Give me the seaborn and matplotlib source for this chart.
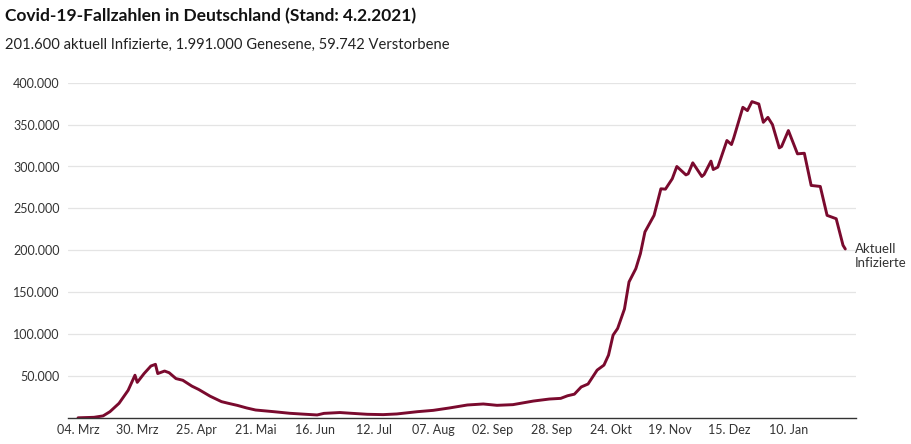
import matplotlib
matplotlib.use("Agg")
import matplotlib.pyplot as plt
import seaborn as sns
import pandas as pd

# ---- data ----
dates = [
    "2020-03-04", "2020-03-11", "2020-03-15", "2020-03-18", "2020-03-22", "2020-03-26",
    "2020-03-29", "2020-03-30", "2020-04-02", "2020-04-05", "2020-04-07", "2020-04-08",
    "2020-04-11", "2020-04-13", "2020-04-16", "2020-04-19", "2020-04-23", "2020-04-26",
    "2020-05-01", "2020-05-06", "2020-05-09", "2020-05-13", "2020-05-17", "2020-05-21",
    "2020-05-29", "2020-06-05", "2020-06-12", "2020-06-17", "2020-06-20", "2020-06-27",
    "2020-07-02", "2020-07-09", "2020-07-16", "2020-07-22", "2020-07-31", "2020-08-07",
    "2020-08-14", "2020-08-22", "2020-08-29", "2020-09-04", "2020-09-11", "2020-09-20",
    "2020-09-27", "2020-10-02", "2020-10-05", "2020-10-08", "2020-10-11", "2020-10-14",
    "2020-10-18", "2020-10-21", "2020-10-23", "2020-10-25", "2020-10-27", "2020-10-30",
    "2020-11-01", "2020-11-04", "2020-11-06", "2020-11-08", "2020-11-12", "2020-11-15",
    "2020-11-17", "2020-11-20", "2020-11-22", "2020-11-26", "2020-11-27", "2020-11-29",
    "2020-12-03", "2020-12-04", "2020-12-07", "2020-12-08", "2020-12-10", "2020-12-14",
    "2020-12-16", "2020-12-17", "2020-12-21", "2020-12-23", "2020-12-25", "2020-12-28",
    "2020-12-30", "2021-01-01", "2021-01-03", "2021-01-06", "2021-01-07", "2021-01-10",
    "2021-01-14", "2021-01-17", "2021-01-20", "2021-01-24", "2021-01-27", "2021-01-31",
    "2021-02-03", "2021-02-04",
]
aktuell_infizierte = [
    200, 800, 2500, 7500, 17500, 33000,
    51000, 42500, 53000, 62000, 64000, 53000,
    56000, 54000, 47000, 45000, 38000, 34000,
    26000, 19500, 17500, 15000, 12000, 9500,
    7500, 5600, 4400, 3600, 5500, 6500,
    5600, 4400, 4000, 4800, 7500, 9100,
    11900, 15500, 16700, 15100, 15900, 20200,
    22600, 23400, 26500, 28400, 37000, 40500,
    57100, 63100, 75000, 98800, 106800, 130000,
    162300, 178200, 196000, 222000, 241700, 273400,
    273000, 285400, 300000, 290000, 291300, 304400,
    288100, 290500, 306400, 296400, 299200, 331000,
    326200, 334100, 370600, 366700, 377400, 374600,
    352700, 358600, 350000, 322200, 323800, 342900,
    315100, 315800, 277400, 276200, 241700, 237700,
    206000, 201600,
]
tick_dates = ["2020-03-04", "2020-03-30", "2020-04-25", "2020-05-21", "2020-06-16",
              "2020-07-12", "2020-08-07", "2020-09-02", "2020-09-28", "2020-10-24",
              "2020-11-19", "2020-12-15", "2021-01-10"]
tick_labels = ["04. Mrz", "30. Mrz", "25. Apr", "21. Mai", "16. Jun", "12. Jul",
               "07. Aug", "02. Sep", "28. Sep", "24. Okt", "19. Nov", "15. Dez", "10. Jan"]
y_ticks = [50000, 100000, 150000, 200000, 250000, 300000, 350000, 400000]
y_tick_labels = ["50.000", "100.000", "150.000", "200.000", "250.000", "300.000",
                 "350.000", "400.000"]

title = "Covid-19-Fallzahlen in Deutschland (Stand: 4.2.2021)"
subtitle = "201.600 aktuell Infizierte, 1.991.000 Genesene, 59.742 Verstorbene"
end_label = "Aktuell\nInfizierte"

# ---- styling ----
sns.set_style("white")
plt.rcParams["font.family"] = ["Lato", "DejaVu Sans"]

df = pd.DataFrame({"datum": pd.to_datetime(dates), "wert": aktuell_infizierte})

fig = plt.figure(figsize=(9.12, 4.44), dpi=100)
ax = fig.add_axes([0.0746, 0.0586, 0.8640, 0.7552])

sns.lineplot(data=df, x="datum", y="wert", ax=ax, color="#7a0a2e", linewidth=2.1)
for ln in ax.get_lines():
    ln.set_solid_joinstyle("round")
    ln.set_solid_capstyle("round")

start = pd.Timestamp(dates[0])
ax.set_xlim(start - pd.Timedelta(days=4.4), start + pd.Timedelta(days=341.7))
ax.set_ylim(0, 400000)

ax.set_xticks(pd.to_datetime(tick_dates))
ax.set_xticklabels(tick_labels, fontsize=9, color="#333333")
ax.set_yticks(y_ticks)
ax.set_yticklabels(y_tick_labels, fontsize=9, color="#333333")
ax.tick_params(axis="both", length=0, pad=6)
ax.tick_params(axis="x", pad=4)

ax.grid(axis="y", color="#e4e4e4", linewidth=0.9)
ax.grid(axis="x", visible=False)
for s in ["top", "right", "left"]:
    ax.spines[s].set_visible(False)
ax.spines["bottom"].set_color("#333333")
ax.spines["bottom"].set_linewidth(1.0)
ax.set_xlabel("")
ax.set_ylabel("")

# end label
last_x = pd.Timestamp(dates[-1])
ax.annotate(end_label, xy=(last_x, aktuell_infizierte[-1]), xytext=(7, 4),
            textcoords="offset points", ha="left", va="top",
            fontsize=9.5, color="#333333", linespacing=1.2, annotation_clip=False)

fig.text(0.006, 0.963, title, fontsize=12.5, fontweight="bold", color="#111111",
         ha="left", va="center")
fig.text(0.006, 0.898, subtitle, fontsize=10.6, color="#222222", ha="left", va="center")

fig.savefig("out.png", dpi=100)
